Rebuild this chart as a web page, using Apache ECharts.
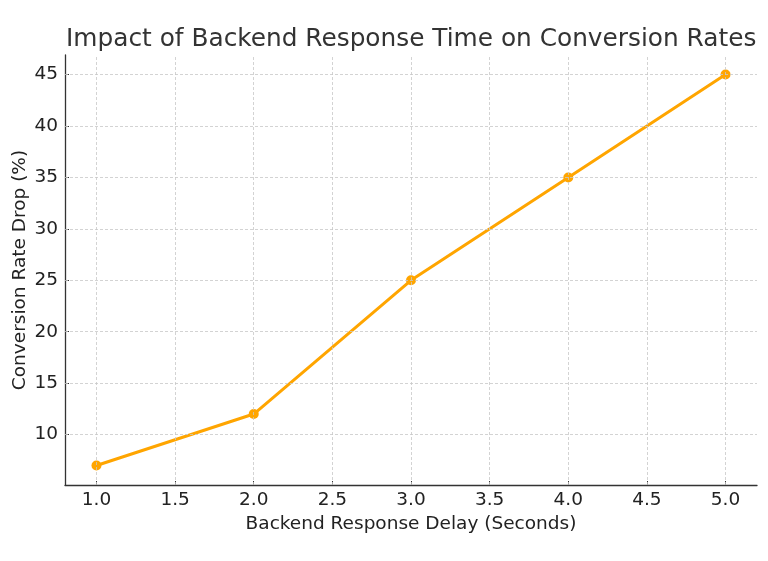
<!DOCTYPE html>
<html><head><meta charset="utf-8">
<script src="https://cdn.jsdelivr.net/npm/echarts@6/dist/echarts.min.js"></script>
<style>html,body{margin:0;padding:0;background:#fff}#c{width:768px;height:561px}</style>
</head><body><div id="c"></div>
<script>
const delays = [1.0, 2.0, 3.0, 4.0, 5.0];
const drops = [7, 12, 25, 35, 45];
const xTicks = [1.0, 1.5, 2.0, 2.5, 3.0, 3.5, 4.0, 4.5, 5.0];
const yTicks = [10, 15, 20, 25, 30, 35, 40, 45];

const font = 'DejaVu Sans';
const pts = delays.map((d, i) => [d, drops[i]]);
const gridStyle = { color: '#c8c8c8', type: [3, 2], width: 0.8 };
const chart = echarts.init(document.getElementById('c'), null, { renderer: 'canvas' });
chart.setOption({
  animation: false,
  title: {
    text: 'Impact of Backend Response Time on Conversion Rates',
    left: 61, top: 22,
    textStyle: { fontFamily: font, fontSize: 24.8, fontWeight: 'normal', color: '#333' }
  },
  grid: { left: 65, right: 11, top: 55, bottom: 76, outerBoundsMode: 'none', containLabel: false },
  xAxis: {
    type: 'value', min: 0.8, max: 5.2,
    name: 'Backend Response Delay (Seconds)', nameLocation: 'middle', nameGap: 30,
    nameMoveOverlap: false,
    nameTextStyle: { fontFamily: font, fontSize: 18.5, color: '#222' },
    axisLine: { show: true, onZero: false, lineStyle: { color: '#333', width: 1.3 } },
    axisTick: { show: true, inside: true, length: 4, customValues: xTicks, lineStyle: { color: '#333' } },
    axisLabel: { customValues: xTicks, fontFamily: font, fontSize: 18.5, color: '#222', margin: 6,
      formatter: v => v.toFixed(1) },
    splitLine: { show: false }
  },
  yAxis: {
    type: 'value', min: 5.1, max: 46.9,
    name: 'Conversion Rate Drop (%)', nameLocation: 'middle', nameGap: 35,
    nameMoveOverlap: false,
    nameTextStyle: { fontFamily: font, fontSize: 18.5, color: '#222' },
    axisLine: { show: true, onZero: false, lineStyle: { color: '#333', width: 1.3 } },
    axisTick: { show: true, inside: true, length: 4, customValues: yTicks, lineStyle: { color: '#333' } },
    axisLabel: { customValues: yTicks, fontFamily: font, fontSize: 18.5, color: '#222', margin: 7,
      formatter: v => String(v) },
    splitLine: { show: false }
  },
  series: [
    {
      type: 'line', data: pts, symbol: 'none', z: 1, silent: true,
      lineStyle: { opacity: 0 },
      markLine: {
        silent: true, symbol: 'none', label: { show: false }, animation: false,
        lineStyle: gridStyle,
        data: xTicks.map(v => ({ xAxis: v })).concat(yTicks.map(v => ({ yAxis: v })))
      }
    },
    {
      type: 'line', data: pts, z: 3,
      symbol: 'circle', symbolSize: 10,
      itemStyle: { color: '#FFA500' },
      lineStyle: { color: '#FFA500', width: 3 }
    }
  ]
});
</script></body></html>
